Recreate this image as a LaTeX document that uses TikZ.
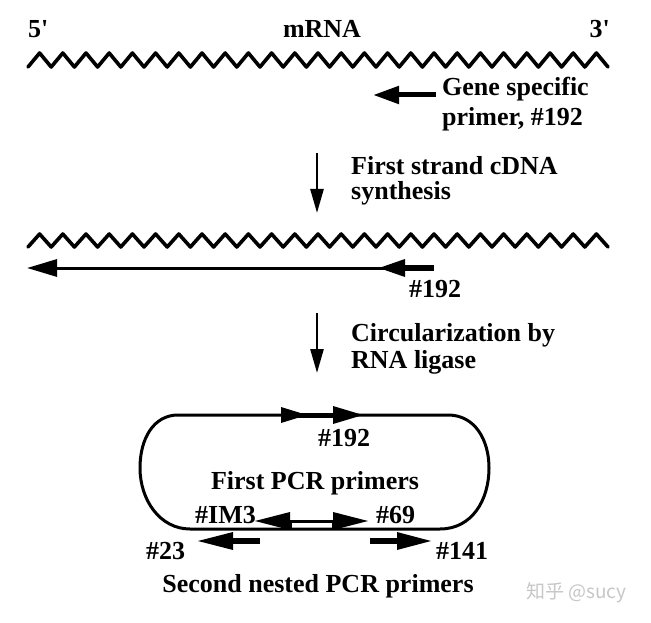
\documentclass[tikz,border=0pt]{standalone}
\usepackage{fontspec}
\setmainfont{Liberation Serif}
\newfontfamily\cjkfont{Noto Sans CJK SC}
\usetikzlibrary{arrows.meta}
\begin{document}
\begin{tikzpicture}[x=1pt,y=-1pt,
  lbl/.style={inner sep=0pt, font=\fontsize{26}{28}\selectfont\bfseries},
  zig/.style={line width=3.6pt, line join=round, line cap=round},
  downarrow/.style={line width=2.6pt, -{Triangle[length=24pt,width=13pt]}},
  strand/.style={line width=3pt},
  primer/.style={line width=6pt},
  headfill/.style={fill=black},
  loopline/.style={line width=3pt}]
\fill[white] (0,0) rectangle (651,623);
\useasboundingbox (0,0) rectangle (651,623);

% ---- top: mRNA
\node[lbl, anchor=base west] (five) at (28,38) {5\textquotesingle};
\node[lbl, anchor=base] (mrna) at (322,38) {mRNA};
\node[lbl, anchor=base east] (three) at (610,38) {3\textquotesingle};
\draw[zig] (28,67) \foreach \i in {1,...,25} { -- ++(11.6,-14) -- ++(11.6,14) };

% gene specific primer
\coordinate (gsA) at (436,95);
\coordinate (gsB) at (373,95);
\draw[line width=5pt, -{Triangle[length=26pt,width=17pt]}] (gsA) -- (gsB);
\node[lbl, anchor=base west] (gs1) at (442,96) {Gene specific};
\node[lbl, anchor=base west] (gs2) at (442,126) {primer, \#192};

% step 1
\coordinate (d1a) at (317,153);
\coordinate (d1b) at (317,213);
\draw[downarrow] (d1a) -- (d1b);
\node[lbl, anchor=base west] (s1a) at (351,175) {First strand cDNA};
\node[lbl, anchor=base west] (s1b) at (351,200) {synthesis};

% ---- middle: mRNA + cDNA
\draw[zig] (28,247) \foreach \i in {1,...,25} { -- ++(11.6,-13) -- ++(11.6,13) };
\coordinate (cA) at (434,268);
\coordinate (cP) at (405,268);
\coordinate (cB) at (27,268);
\draw[strand, -{Triangle[length=30pt,width=17pt]}] (cP) -- (cB);
\draw[primer] (cA) -- (cP);
\fill[headfill] (405,259) -- (379,268) -- (405,277) -- cycle;
\node[lbl, anchor=base west] (p192a) at (409,297) {\#192};

% step 2
\coordinate (d2a) at (317,313);
\coordinate (d2b) at (317,373);
\draw[downarrow] (d2a) -- (d2b);
\node[lbl, anchor=base west] (s2a) at (351,341) {Circularization by};
\node[lbl, anchor=base west] (s2b) at (351,368) {RNA ligase};

% ---- circle
\draw[loopline] (178,415) -- (448,415)
  .. controls (475,415) and (489,440) .. (489,468)
  .. controls (489,500) and (472,529) .. (440,529)
  -- (190,529)
  .. controls (160,529) and (140,500) .. (140,468)
  .. controls (140,438) and (154,415) .. (178,415);
\draw[line width=5pt] (283,415) -- (340,415);
\fill[headfill] (281,407) -- (307,415) -- (281,423) -- cycle;
\fill[headfill] (333,406) -- (363,415) -- (333,424) -- cycle;
\node[lbl, anchor=base] (l192) at (344,446) {\#192};
\node[lbl, anchor=base] (first) at (315,489) {First PCR primers};

% first PCR primers
\node[lbl, anchor=base east] (im3) at (256,523) {\#IM3};
\node[lbl, anchor=base west] (p69) at (376,523) {\#69};
\draw[line width=3pt] (288,521) -- (335,521);
\draw[line width=3pt] (290,521) -- (290,529);
\draw[line width=3pt] (333,521) -- (333,529);
\fill[headfill] (290,512) -- (255,521) -- (290,530) -- cycle;
\fill[headfill] (333,512) -- (368,521) -- (333,530) -- cycle;

% second nested primers
\coordinate (n23a) at (260,541);
\coordinate (n23b) at (231,541);
\draw[primer] (n23a) -- (n23b);
\fill[headfill] (233,532) -- (198,541) -- (233,550) -- cycle;
\node[lbl, anchor=base west] (p23) at (146,559) {\#23};
\coordinate (n141a) at (370,541);
\coordinate (n141b) at (399,541);
\draw[primer] (n141a) -- (n141b);
\fill[headfill] (397,532) -- (431,541) -- (397,550) -- cycle;
\node[lbl, anchor=base west] (p141) at (436,559) {\#141};
\node[lbl, anchor=base] (second) at (318,592) {Second nested PCR primers};

% watermark
\node[inner sep=0pt, anchor=base west, text=black!22, font=\cjkfont\fontsize{19}{20}\selectfont] (wm) at (526,598) {知乎 @sucy};
\end{tikzpicture}
\end{document}
